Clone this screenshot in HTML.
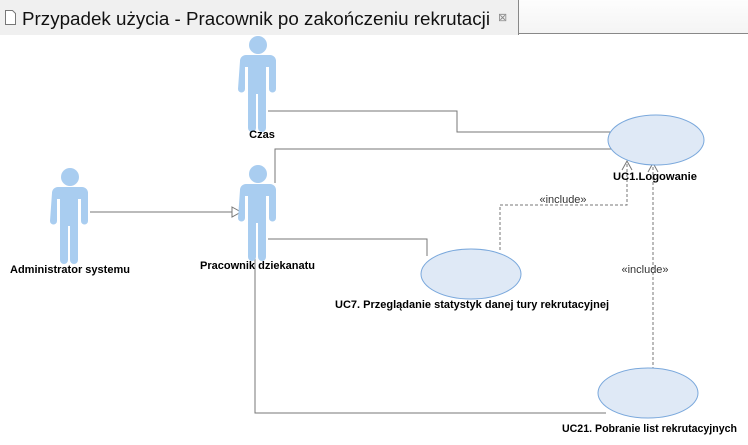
<!DOCTYPE html>
<html><head><meta charset="utf-8"><style>
body{margin:0;width:748px;height:445px;overflow:hidden;background:#fff;font-family:"Liberation Sans",sans-serif}
.tabbar{position:absolute;left:0;top:0;width:748px;height:35px;background:#fff}
.tab{position:absolute;left:0;top:0;width:518px;height:35px;background:#f0f0f0;border-right:1px solid #888}
.rest{position:absolute;left:519px;top:0;right:0;height:33px;border-bottom:1px solid #888;background:linear-gradient(#fdfdfd,#f4f4f4)}
svg{position:absolute;left:0;top:0}
text{font-family:"Liberation Sans",sans-serif;font-size:11px}
.b{font-weight:bold;fill:#000}
</style></head><body>
<div class="tabbar"><div class="tab">
<svg width="518" height="35"><path d="M5.5 10.5h7l3 3v11h-10z" fill="#fff" stroke="#777"/>
<text x="22" y="25" style="font-size:18px" fill="#111" textLength="468" lengthAdjust="spacingAndGlyphs">Przypadek użycia - Pracownik po zakończeniu rekrutacji</text>
<text x="498" y="21" style="font-size:11px" fill="#888">⊠</text></svg>
</div><div class="rest"></div></div>
<svg width="748" height="445" style="top:0">
<defs>
<g id="act">
<circle cx="0" cy="0" r="9" fill="#a9cdf0"/>
<path d="M-18 16 a6 6 0 0 1 6 -6 h24 a6 6 0 0 1 6 6 v28 a3.5 3.5 0 0 1 -7 0 v-22 h-3 v61 a4 4 0 0 1 -8 0 v-34 h-2 v34 a4 4 0 0 1 -8 0 v-61 h-3 v22 a3.5 3.5 0 0 1 -7 0 z" fill="#a9cdf0"/>
</g>
</defs>
<g fill="none" stroke="#777" stroke-width="1">
<path d="M268 111 H457 V132 H612"/>
<path d="M275 183 V149 H612"/>
<path d="M90 212 H232"/>
<path d="M232 207 L241 212 L232 217 Z" fill="#fff"/>
<path d="M268 239 H427 V256"/>
<path d="M255 255 V413 H606"/>
<g stroke-dasharray="3,2">
<path d="M500 250 V205 H627 V162"/>
<path d="M653 370 V164"/>
</g>
<path d="M622 170 L627 161 L632 170"/>
<path d="M648 172 L653 163 L658 172"/>
</g>
<ellipse cx="656" cy="140" rx="48" ry="25" fill="#dfe9f6" stroke="#7aa8dc"/>
<ellipse cx="471" cy="274" rx="50" ry="25" fill="#dfe9f6" stroke="#7aa8dc"/>
<ellipse cx="648" cy="393" rx="50" ry="25" fill="#dfe9f6" stroke="#7aa8dc"/>
<use href="#act" x="258" y="45"/>
<use href="#act" x="70" y="177"/>
<use href="#act" x="258" y="174"/>
<text class="b" x="262" y="138" text-anchor="middle">Czas</text>
<text class="b" x="613" y="180" textLength="84" lengthAdjust="spacingAndGlyphs">UC1.Logowanie</text>
<text class="b" x="10" y="273" textLength="120" lengthAdjust="spacingAndGlyphs">Administrator systemu</text>
<text class="b" x="200" y="269" textLength="115" lengthAdjust="spacingAndGlyphs">Pracownik dziekanatu</text>
<text class="b" x="335" y="308" textLength="274" lengthAdjust="spacingAndGlyphs">UC7. Przeglądanie statystyk danej tury rekrutacyjnej</text>
<text class="b" x="562" y="432" textLength="175" lengthAdjust="spacingAndGlyphs">UC21. Pobranie list rekrutacyjnych</text>
<text x="563" y="203" text-anchor="middle" fill="#333">«include»</text>
<text x="645" y="273" text-anchor="middle" fill="#333">«include»</text>
</svg>
</body></html>
